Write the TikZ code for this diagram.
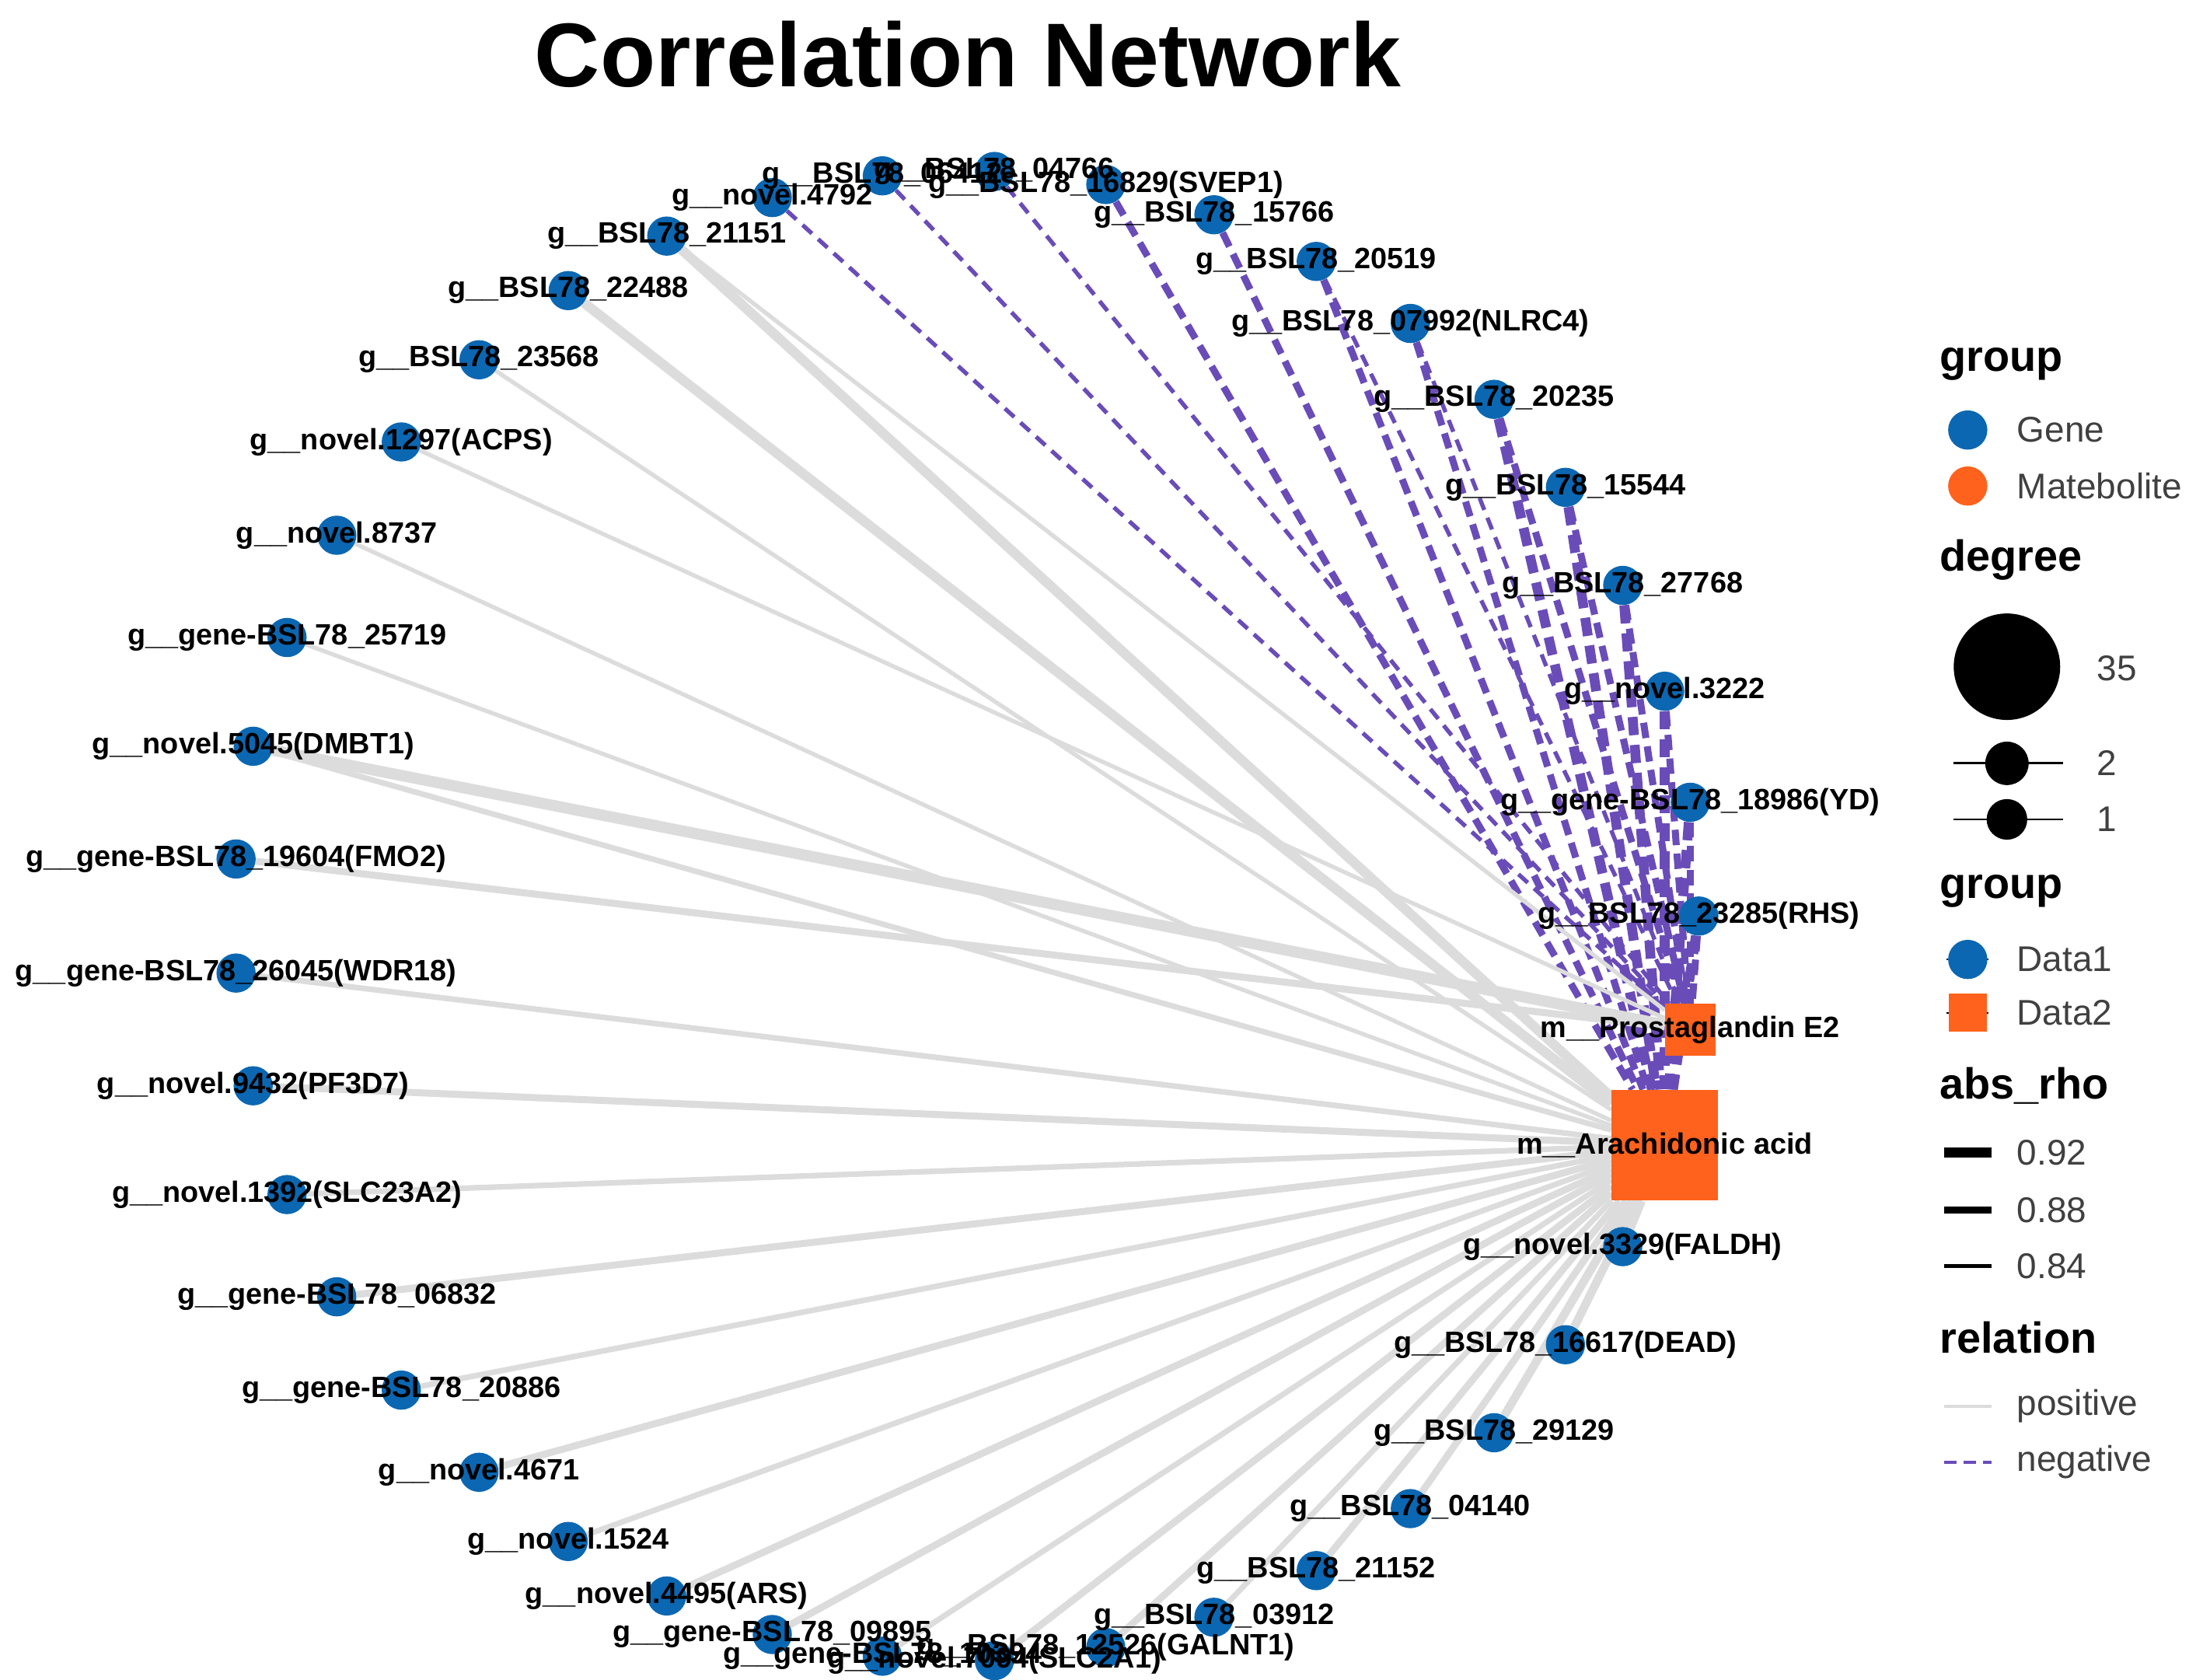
\documentclass[tikz,border=0pt]{standalone}
\usepackage{fontspec}
\setmainfont{Liberation Sans}
\usetikzlibrary{backgrounds}
\definecolor{geneblue}{HTML}{0B67B2}
\definecolor{metorange}{HTML}{FF621C}
\definecolor{negpurple}{HTML}{6A4CB8}
\definecolor{posgray}{HTML}{DCDCDC}
\definecolor{legtext}{HTML}{404040}
\tikzset{
  gene/.style={circle, fill=geneblue, minimum size=28pt, inner sep=0pt},
  met/.style={rectangle, fill=metorange, inner sep=0pt},
  lab/.style={font=\fontsize{21}{21}\selectfont\bfseries, inner sep=0pt, text=black},
  posedge/.style={draw=posgray, line width=#1},
  negA/.style={draw=negpurple, line width=7pt, dash pattern=on 13pt off 7pt},
  negB/.style={draw=negpurple, line width=5pt, dash pattern=on 11pt off 6pt},
  negC/.style={draw=negpurple, line width=3pt, dash pattern=on 9pt off 6pt},
  legtitle/.style={font=\fontsize{31}{31}\selectfont\bfseries, anchor=west, inner sep=0pt},
  legitem/.style={font=\fontsize{25.5}{25.5}\selectfont, text=legtext, anchor=west, inner sep=0pt},
}
\begin{document}
\begin{tikzpicture}[x=1pt,y=-1pt]
\useasboundingbox (0,0) rectangle (1568,1199);
% title
\node[font=\fontsize{64.7}{65}\selectfont\bfseries, anchor=base, inner sep=0pt] (title) at (691,62) {Correlation Network};
% gene nodes
\foreach \k in {0,...,38}{
  \node[gene] (g\k) at ({690+523*cos(\k*360/41)},{654-532*sin(\k*360/41)}) {};
}
\node[met, minimum width=76pt, minimum height=79pt] (ara) at ({690+523*cos(39*360/41)},{654-532*sin(39*360/41)+3}) {};
\node[met, minimum width=36pt, minimum height=37pt] (pro) at ({690+523*cos(40*360/41)},{654-532*sin(40*360/41)}) {};
% edges
\begin{scope}[on background layer]
  % negative
  \foreach \k in {0,...,5}{ \draw[negA] (g\k) -- (ara); \draw[negB] (g\k) -- (pro); }
  \foreach \k in {6,7}{ \draw[negB] (g\k) -- (ara); \draw[negC] (g\k) -- (pro); }
  \foreach \k in {8,9}{ \draw[negB] (g\k) -- (ara); }
  \foreach \k in {10,...,12}{ \draw[negC] (g\k) -- (pro); }
  % positive
  \draw[posedge=7pt] (g13) -- (ara);
  \draw[posedge=3pt] (g13) -- (pro);
  \draw[posedge=7pt] (g14) -- (ara);
  \draw[posedge=3pt] (g15) -- (ara);
  \draw[posedge=3pt] (g16) -- (pro);
  \draw[posedge=3pt] (g17) -- (ara);
  \draw[posedge=3pt] (g18) -- (ara);
  \draw[posedge=8pt] (g19) -- (pro);
  \draw[posedge=4pt] (g19) -- (ara);
  \draw[posedge=5pt] (g20) -- (pro);
  \draw[posedge=4pt] (g21) -- (ara);
  \draw[posedge=5pt] (g22) -- (ara);
  \draw[posedge=4pt] (g23) -- (ara);
  \draw[posedge=5pt] (g24) -- (ara);
  \draw[posedge=4pt] (g25) -- (ara);
  \draw[posedge=5pt] (g26) -- (ara);
  \draw[posedge=4pt] (g27) -- (ara);
  \draw[posedge=5pt] (g28) -- (ara);
  \draw[posedge=5pt] (g29) -- (ara);
  \draw[posedge=4pt] (g30) -- (ara);
  \draw[posedge=5pt] (g31) -- (ara);
  \draw[posedge=5pt] (g32) -- (ara);
  \draw[posedge=4pt] (g33) -- (ara);
  \draw[posedge=5pt] (g34) -- (ara);
  \draw[posedge=5pt] (g35) -- (ara);
  \draw[posedge=6pt] (g36) -- (ara);
  \draw[posedge=6pt] (g37) -- (ara);
  \draw[posedge=6pt] (g38) -- (ara);
\end{scope}
% labels
\foreach \k/\txt in {
 0/{g\_\_BSL78\_23285(RHS)},
 1/{g\_\_gene-BSL78\_18986(YD)},
 2/{g\_\_novel.3222},
 3/{g\_\_BSL78\_27768},
 4/{g\_\_BSL78\_15544},
 5/{g\_\_BSL78\_20235},
 6/{g\_\_BSL78\_07992(NLRC4)},
 7/{g\_\_BSL78\_20519},
 8/{g\_\_BSL78\_15766},
 9/{g\_\_BSL78\_16829(SVEP1)},
 10/{g\_\_BSL78\_04766},
 11/{g\_\_BSL78\_06412},
 12/{g\_\_novel.4792},
 13/{g\_\_BSL78\_21151},
 14/{g\_\_BSL78\_22488},
 15/{g\_\_BSL78\_23568},
 16/{g\_\_novel.1297(ACPS)},
 17/{g\_\_novel.8737},
 18/{g\_\_gene-BSL78\_25719},
 19/{g\_\_novel.5045(DMBT1)},
 20/{g\_\_gene-BSL78\_19604(FMO2)},
 21/{g\_\_gene-BSL78\_26045(WDR18)},
 22/{g\_\_novel.9432(PF3D7)},
 23/{g\_\_novel.1392(SLC23A2)},
 24/{g\_\_gene-BSL78\_06832},
 25/{g\_\_gene-BSL78\_20886},
 26/{g\_\_novel.4671},
 27/{g\_\_novel.1524},
 28/{g\_\_novel.4495(ARS)},
 29/{g\_\_gene-BSL78\_09895},
 30/{g\_\_gene-BSL78\_10394},
 31/{g\_\_novel.7094(SLC2A1)},
 32/{g\_\_BSL78\_12526(GALNT1)},
 33/{g\_\_BSL78\_03912},
 34/{g\_\_BSL78\_21152},
 35/{g\_\_BSL78\_04140},
 36/{g\_\_BSL78\_29129},
 37/{g\_\_BSL78\_16617(DEAD)},
 38/{g\_\_novel.3329(FALDH)}}{
  \node[lab] (l\k) at (g\k) {\txt};
}
\node[lab] (lara) at (ara) {m\_\_Arachidonic acid};
\node[lab] (lpro) at (pro) {m\_\_Prostaglandin E2};
% legend
\node[legtitle] (lt1) at (1385,260) {group};
\node[gene, minimum size=28pt] (k1) at (1405,307) {};
\node[legitem] (t1) at (1440,307) {Gene};
\node[circle, fill=metorange, minimum size=28pt, inner sep=0pt] (k2) at (1405,347) {};
\node[legitem] (t2) at (1440,347) {Matebolite};
\node[legtitle] (lt2) at (1385,400) {degree};
\node[circle, fill=black, minimum size=76pt, inner sep=0pt] (k3) at (1433,476) {};
\node[legitem] (t3) at (1497,477) {35};
\draw[line width=1.6pt] (1395,545) -- (1473,545);
\node[circle, fill=black, minimum size=31pt, inner sep=0pt] (k4) at (1433,545) {};
\node[legitem] (t4) at (1497,545) {2};
\draw[line width=1.6pt] (1395,585) -- (1473,585);
\node[circle, fill=black, minimum size=29pt, inner sep=0pt] (k5) at (1433,585) {};
\node[legitem] (t5) at (1497,585) {1};
\node[legtitle] (lt3) at (1385,636) {group};
\draw[line width=1pt] (1390,685) -- (1420,685);
\node[gene, minimum size=28pt] (k6) at (1405,685) {};
\node[legitem] (t6) at (1440,685) {Data1};
\draw[line width=1pt] (1390,723) -- (1420,723);
\node[met, minimum size=27pt] (k7) at (1405,723) {};
\node[legitem] (t7) at (1440,723) {Data2};
\node[legtitle] (lt4) at (1385,775) {abs\_rho};
\draw[line width=7pt] (1388,823) -- (1422,823);
\node[legitem] (t8) at (1440,823) {0.92};
\draw[line width=5pt] (1388,864) -- (1422,864);
\node[legitem] (t9) at (1440,864) {0.88};
\draw[line width=3pt] (1388,904) -- (1422,904);
\node[legitem] (t10) at (1440,904) {0.84};
\node[legtitle] (lt5) at (1385,955) {relation};
\draw[posgray, line width=2pt] (1388,1004) -- (1422,1004);
\node[legitem] (t11) at (1440,1004) {positive};
\draw[negpurple, line width=2pt, dash pattern=on 9pt off 5pt] (1388,1044) -- (1422,1044);
\node[legitem] (t12) at (1440,1044) {negative};
\end{tikzpicture}
\end{document}
